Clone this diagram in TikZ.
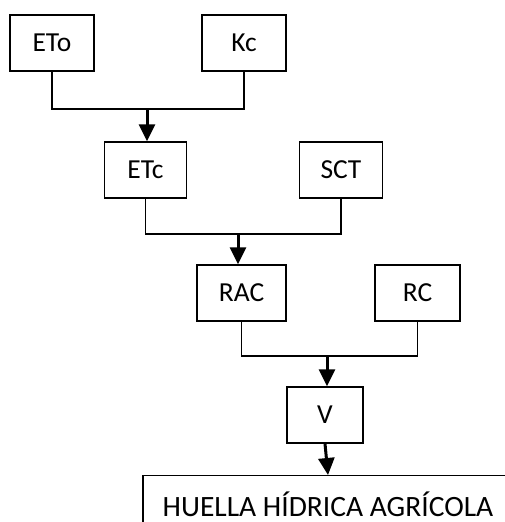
\documentclass[tikz,border=0pt]{standalone}
\usepackage{fontspec}
\setmainfont{Carlito}
\usetikzlibrary{arrows.meta}
\tikzset{
  caja/.style={draw, line width=1.4pt, minimum height=56pt, inner sep=0pt,
    font=\fontsize{27.5}{32}\selectfont},
  union/.style={line width=1.5pt},
  flecha/.style={line width=3pt, -{Triangle[length=17pt,width=16pt]}}
}
\begin{document}
\begin{tikzpicture}[x=1pt, y=-1pt]
    \useasboundingbox (0,0) rectangle (504,522);

    % Cajas
    \node[caja, minimum width=84pt] (eto) at (52,43) {ETo};
    \node[caja, minimum width=84pt] (kc) at (244,43) {Kc};
    \node[caja, minimum width=82pt] (etc) at (145.5,170) {ETc};
    \node[caja, minimum width=83pt] (sct) at (341,170) {SCT};
    \node[caja, minimum width=89pt] (rac) at (241.5,293) {RAC};
    \node[caja, minimum width=85pt] (rc) at (417.5,293) {RC};
    \node[caja, minimum width=76pt] (v) at (325,415) {V};
    \node[caja, minimum width=370pt, minimum height=56pt, anchor=north,
      font=\fontsize{29.5}{34}\selectfont, text depth=0pt] (huella) at (328,475) {HUELLA HÍDRICA AGRÍCOLA};

    % Uniones
    \coordinate (j1) at (147,109);
    \coordinate (j2) at (238,234);
    \coordinate (j3) at (327,356);
    \draw[union] (eto.south) |- (j1) -| (kc.south);
    \draw[union] (etc.south) |- (j2) -| (sct.south);
    \draw[union] (rac.south) |- (j3) -| (rc.south);

    % Flechas
    \draw[flecha] (j1) -- (j1 |- etc.north);
    \draw[flecha] (j2) -- (j2 |- rac.north);
    \draw[flecha] (j3) -- (j3 |- v.north);
    \draw[flecha] (v.south) -- (huella.north);
  \end{tikzpicture}
\end{document}
